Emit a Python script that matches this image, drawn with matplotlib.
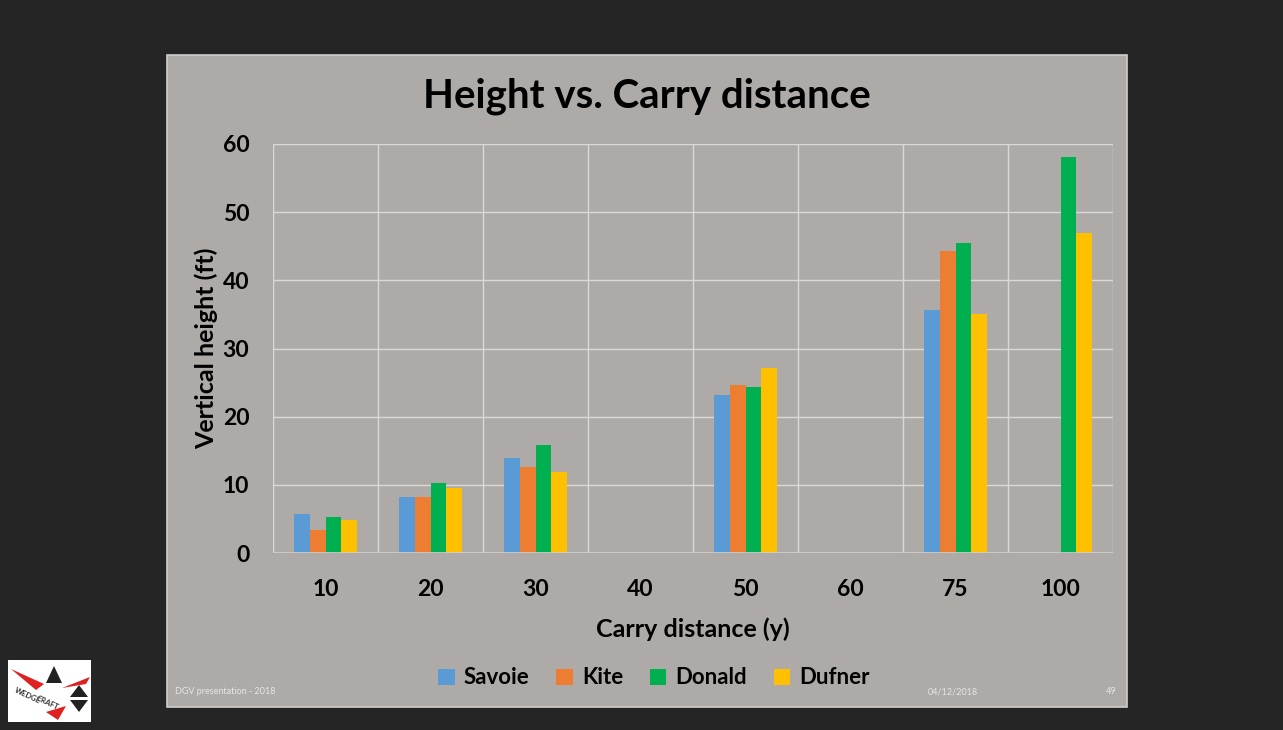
import numpy as np
import matplotlib.pyplot as plt
from matplotlib.patches import Rectangle, Polygon

# datos
distancias = ['10', '20', '30', '40', '50', '60', '75', '100']
savoie = [5.7, 8.2, 13.9, np.nan, 23.2, np.nan, 35.6, np.nan]
kite = [3.4, 8.2, 12.6, np.nan, 24.6, np.nan, 44.3, np.nan]
donald = [5.3, 10.3, 15.8, np.nan, 24.4, np.nan, 45.5, 58.1]
dufner = [4.8, 9.6, 11.9, np.nan, 27.2, np.nan, 35.0, 47.0]
jugadores = ['Savoie', 'Kite', 'Donald', 'Dufner']
colores = ['#5B9BD5', '#ED7D31', '#00B050', '#FFC000']

W, H = 1283, 730
plt.rcParams['font.family'] = ['Lato', 'DejaVu Sans']

fig = plt.figure(figsize=(W / 100, H / 100), dpi=100)
fig.patch.set_facecolor('#252525')

def px(x, y):
    return (x / W, 1 - y / H)

def caja(x0, y0, x1, y1, **kw):
    r = Rectangle(px(x0, y1), (x1 - x0) / W, (y1 - y0) / H,
                  transform=fig.transFigure, **kw)
    fig.add_artist(r)

# panel gris (detras de los ejes)
caja(167, 55, 1127, 707, facecolor='#aeaaa8', edgecolor='#d0cdcb', lw=1.2, zorder=-10)

ax = fig.add_axes([273 / W, 1 - 553 / H, (1113 - 273) / W, (553 - 144) / H])
ax.set_facecolor('none')
ax.set_zorder(5)

x = np.arange(len(distancias))
ancho = 0.152
series = [savoie, kite, donald, dufner]
for i, (vals, nombre, c) in enumerate(zip(series, jugadores, colores)):
    ax.bar(x + (i - 1.5) * ancho, vals, ancho, color=c, label=nombre, zorder=3)

ax.set_xlim(-0.5, len(distancias) - 0.5)
ax.set_ylim(0, 60)
ax.set_yticks(range(0, 61, 10))
ax.set_xticks(x)
ax.set_xticklabels(distancias)
for v in np.arange(-0.5, len(distancias), 1):
    ax.axvline(v, color='#d9d9d9', lw=1, zorder=1)
for v in range(10, 61, 10):
    ax.axhline(v, color='#d9d9d9', lw=1, zorder=1)
ax.axhline(0, color='#d0d0d0', lw=1.2, zorder=4)
for s in ax.spines.values():
    s.set_visible(False)
ax.tick_params(length=0, labelsize=16.5)
ax.tick_params(axis='x', pad=19)
ax.tick_params(axis='y', pad=17)
for t in ax.get_xticklabels() + ax.get_yticklabels():
    t.set_fontweight('bold')

ax.set_xlabel('Carry distance (y)', fontsize=18, fontweight='bold', labelpad=12)
ax.set_ylabel('Vertical height (ft)', fontsize=18, fontweight='bold', labelpad=3)

fig.text(*px(647, 96), 'Height vs. Carry distance', fontsize=29, fontweight='bold',
         ha='center', va='center')

fig.legend(loc='center', bbox_to_anchor=px(654, 678), ncol=4, frameon=False,
           prop={'weight': 'bold', 'size': 16},
           handlelength=0.75, handleheight=0.75, handletextpad=0.4, columnspacing=1.2)

# pie de diapositiva
fig.text(*px(175, 692), 'DGV presentation - 2018', fontsize=6.5, color='#e6e6e6', va='center')
fig.text(*px(953, 692), '04/12/2018', fontsize=6.5, color='#e6e6e6', va='center', ha='center')
fig.text(*px(1116, 692), '49', fontsize=6.5, color='#e6e6e6', va='center', ha='right')

# logo
caja(8, 660, 91, 722, facecolor='white', edgecolor='none')
def poli(pts, c):
    fig.add_artist(Polygon([px(a, b) for a, b in pts], closed=True,
                           transform=fig.transFigure, facecolor=c, edgecolor='none'))
poli([(46, 683), (62, 683), (54, 666)], '#222222')
poli([(70, 697), (88, 697), (79, 685)], '#222222')
poli([(70, 700), (88, 700), (79, 712)], '#222222')
poli([(11, 669), (44, 684), (36, 690)], '#e02020')
poli([(62, 688), (90, 677), (86, 684)], '#e02020')
poli([(46, 712), (66, 706), (58, 720)], '#e02020')
fig.text(*px(28, 696), 'WEDGE', fontsize=5.5, fontweight='bold', rotation=-25,
         ha='center', va='center', color='#333333')
fig.text(*px(48, 703), 'CRAFT', fontsize=5.5, fontweight='bold', rotation=-25,
         ha='center', va='center', color='#333333')

fig.savefig('out.png', dpi=100, facecolor=fig.get_facecolor())
